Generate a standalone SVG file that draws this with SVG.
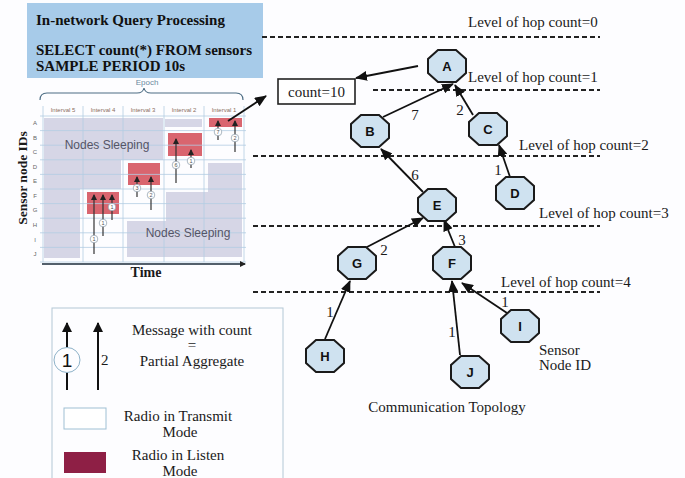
<svg xmlns="http://www.w3.org/2000/svg" xmlns:xlink="http://www.w3.org/1999/xlink" width="685" height="478" viewBox="0 0 685 478">
<style>
.serif{font-family:"Liberation Serif","Times New Roman",serif;fill:#1a1a1a}
.hdr{font-family:"Liberation Serif","Times New Roman",serif;font-weight:bold;font-size:15px;fill:#111}
.lvl{font-size:15px}
.lbl{font-size:15px;text-anchor:middle}
.nodetxt{font-family:"Liberation Sans",Arial,sans-serif;font-weight:bold;font-size:13px;fill:#111;text-anchor:middle}
.oct{fill:#cfe2f0;stroke:#1a1a1a;stroke-width:2}
.dash{stroke:#222;stroke-width:1.8;stroke-dasharray:5 3;fill:none}
.edge{stroke:#111;stroke-width:1.8;fill:none;marker-end:url(#ah)}
.grid{stroke:#b3cde2;stroke-width:0.8;fill:none}
.sleep{fill:#d6d6e6}
.listen{fill:#d9656f}
.carrow{stroke:#333;stroke-width:1.2;fill:none;marker-end:url(#sh)}
.cc{fill:#fff;stroke:#8a9aa8;stroke-width:0.7}
.cnum{font-family:"Liberation Sans",Arial,sans-serif;font-size:5.5px;fill:#555;text-anchor:middle}
.tiny{font-family:"Liberation Sans",Arial,sans-serif;font-size:6px;fill:#8a6e5e;text-anchor:middle}
.row{font-family:"Liberation Sans",Arial,sans-serif;font-size:6px;fill:#666;text-anchor:middle}
.ns{font-family:"Liberation Sans",Arial,sans-serif;font-size:12px;fill:#555566;text-anchor:middle}
</style>
<defs>
<marker id="ah" markerUnits="userSpaceOnUse" markerWidth="12" markerHeight="10" refX="11" refY="5" orient="auto">
<path d="M0,0 L12,5 L0,10 Z" fill="#111"/>
</marker>
<marker id="sh" markerUnits="userSpaceOnUse" markerWidth="6" markerHeight="6" refX="5" refY="3" orient="auto">
<path d="M0,0 L6,3 L0,6 Z" fill="#222"/>
</marker>
<marker id="lh" markerUnits="userSpaceOnUse" markerWidth="10" markerHeight="10" refX="9" refY="5" orient="auto">
<path d="M0,0 L10,5 L0,10 Z" fill="#111"/>
</marker>
<polygon id="oct" class="oct" points="-9,-16 9,-16 19,-7 19,7 9,16 -9,16 -19,7 -19,-7"/>
</defs>
<rect width="685" height="478" fill="#fdfdff"/>

<g id="header">
<rect x="27" y="3" width="236" height="75" fill="#a7cbe9"/>
<text class="hdr" x="36" y="25">In-network Query Processing</text>
<text class="hdr" x="36" y="55">SELECT count(*) FROM sensors</text>
<text class="hdr" x="36" y="71">SAMPLE PERIOD 10s</text>
</g>

<g id="chart">
<path d="M40,100 Q40,93 47,93 L137,93 Q143,93 144,88 Q145,93 151,93 L236,93 Q243,93 243,100" fill="none" stroke="#4d6d84" stroke-width="1.2"/>
<text x="147" y="85" font-family="Liberation Sans, Arial, sans-serif" font-size="8" fill="#6a8aa0" text-anchor="middle">Epoch</text>
<text class="tiny" x="63" y="112">Interval 5</text>
<text class="tiny" x="103" y="112">Interval 4</text>
<text class="tiny" x="143" y="112">Interval 3</text>
<text class="tiny" x="184" y="112">Interval 2</text>
<text class="tiny" x="224" y="112">Interval 1</text>
<polygon class="sleep" points="44,118 163,118 163,160 121,160 121,189 80,189 80,258 44,258"/>
<rect class="sleep" x="165" y="119" width="37" height="8"/>
<polygon class="sleep" points="208,163 242,163 242,257 127,257 127,221 166,221 166,192 208,192"/>
<rect class="listen" x="209" y="118" width="33" height="9"/>
<rect class="listen" x="168" y="133" width="34" height="23"/>
<rect class="listen" x="128" y="163" width="32" height="22"/>
<rect class="listen" x="87" y="192" width="32" height="22"/>
<g class="grid">
<path d="M40,116H246M40,130.6H246M40,145.2H246M40,159.8H246M40,174.4H246M40,189H246M40,203.6H246M40,218.2H246M40,232.8H246M40,247.4H246M40,262H246"/>
<path d="M43,106V262M83,106V262M123,106V262M164,106V262M204,106V262M244,106V262"/>
</g>
<text class="row" x="35" y="125">A</text>
<text class="row" x="35" y="140">B</text>
<text class="row" x="35" y="154">C</text>
<text class="row" x="35" y="169">D</text>
<text class="row" x="35" y="183">E</text>
<text class="row" x="35" y="198">F</text>
<text class="row" x="35" y="212">G</text>
<text class="row" x="35" y="227">H</text>
<text class="row" x="35" y="242">I</text>
<text class="row" x="35" y="256">J</text>
<text class="ns" x="107" y="149">Nodes Sleeping</text>
<text class="ns" x="188" y="237">Nodes Sleeping</text>
<path class="carrow" d="M218,140V121"/><circle class="cc" cx="218" cy="132" r="3.8"/><text class="cnum" x="218" y="134">7</text>
<path class="carrow" d="M235,152V121"/><circle class="cc" cx="235" cy="138" r="3.8"/><text class="cnum" x="235" y="140">2</text>
<path class="carrow" d="M176,183V139"/><circle class="cc" cx="176" cy="165" r="3.8"/><text class="cnum" x="176" y="167">6</text>
<path class="carrow" d="M191,168V150"/><circle class="cc" cx="191" cy="161" r="3.8"/><text class="cnum" x="191" y="163">1</text>
<path class="carrow" d="M137,197V177"/><circle class="cc" cx="137" cy="188" r="3.8"/><text class="cnum" x="137" y="190">3</text>
<path class="carrow" d="M151,210V177"/><circle class="cc" cx="151" cy="195" r="3.8"/><text class="cnum" x="151" y="197">2</text>
<path class="carrow" d="M94,254V195"/><circle class="cc" cx="94" cy="239" r="3.8"/><text class="cnum" x="94" y="241">1</text>
<path class="carrow" d="M103,236V195"/><circle class="cc" cx="103" cy="223" r="3.8"/><text class="cnum" x="103" y="225">1</text>
<path class="carrow" d="M112,220V195"/><circle class="cc" cx="112" cy="207" r="3.8"/><text class="cnum" x="112" y="209">1</text>
<path d="M42,264H245" stroke="#1a2a3a" stroke-width="1.5" marker-end="url(#sh)"/>
<text class="serif" x="146" y="277" font-size="14" font-weight="bold" text-anchor="middle">Time</text>
<text class="serif" transform="translate(27,178) rotate(-90)" font-size="13.5" font-weight="bold" text-anchor="middle">Sensor node IDs</text>
</g>

<g id="levels">
<path class="dash" d="M262,37H600M373,90H600M253,156H600M253,226H600M253,292H600"/>
<text class="serif lvl" x="468" y="27">Level of hop count=0</text>
<text class="serif lvl" x="468" y="82">Level of hop count=1</text>
<text class="serif lvl" x="519" y="150">Level of hop count=2</text>
<text class="serif lvl" x="539" y="218">Level of hop count=3</text>
<text class="serif lvl" x="501" y="287">Level of hop count=4</text>
</g>

<g id="count-box">
<rect x="278" y="79" width="77" height="25" fill="#fff" stroke="#222" stroke-width="1.6"/>
<text class="serif lbl" x="316.5" y="97">count=10</text>
</g>

<g id="connectors">
<path class="edge" d="M228,121L266,96"/>
<path class="edge" d="M418,66L356,78"/>
<path class="edge" d="M383,117L453,84"/>
<path class="edge" d="M473,115L455,85"/>
<path class="edge" d="M423,192L381,149"/>
<path class="edge" d="M510,177L499,145"/>
<path class="edge" d="M367,247L423,218"/>
<path class="edge" d="M455,247L444,220"/>
<path class="edge" d="M325,339L350,281"/>
<path class="edge" d="M460,355L452,281"/>
<path class="edge" d="M507,313L462,283"/>
<text class="serif lbl" x="415" y="120">7</text>
<text class="serif lbl" x="460" y="115">2</text>
<text class="serif lbl" x="415" y="180">6</text>
<text class="serif lbl" x="498" y="175">1</text>
<text class="serif lbl" x="384" y="255">2</text>
<text class="serif lbl" x="462" y="245">3</text>
<text class="serif lbl" x="330" y="317">1</text>
<text class="serif lbl" x="452" y="337">1</text>
<text class="serif lbl" x="505" y="307">1</text>
</g>

<g id="node-A"><use xlink:href="#oct" x="447" y="66"/><text class="nodetxt" x="447" y="71">A</text></g>
<g id="node-B"><use xlink:href="#oct" x="370" y="131"/><text class="nodetxt" x="370" y="136">B</text></g>
<g id="node-C"><use xlink:href="#oct" x="488" y="129"/><text class="nodetxt" x="488" y="134">C</text></g>
<g id="node-D"><use xlink:href="#oct" x="515" y="193"/><text class="nodetxt" x="515" y="198">D</text></g>
<g id="node-E"><use xlink:href="#oct" x="437" y="205"/><text class="nodetxt" x="437" y="210">E</text></g>
<g id="node-F"><use xlink:href="#oct" x="452" y="263"/><text class="nodetxt" x="452" y="268">F</text></g>
<g id="node-G"><use xlink:href="#oct" x="357" y="263"/><text class="nodetxt" x="357" y="268">G</text></g>
<g id="node-H"><use xlink:href="#oct" x="325" y="356"/><text class="nodetxt" x="325" y="361">H</text></g>
<g id="node-I"><use xlink:href="#oct" x="520" y="326"/><text class="nodetxt" x="520" y="331">I</text></g>
<g id="node-J"><use xlink:href="#oct" x="470" y="372"/><text class="nodetxt" x="470" y="377">J</text></g>

<g id="captions">
<text class="serif" x="539" y="355" font-size="15">Sensor</text>
<text class="serif" x="539" y="370" font-size="15">Node ID</text>
<text class="serif lbl" x="447" y="412">Communication Topology</text>
</g>

<g id="legend">
<rect x="52" y="308" width="231" height="190" fill="#fdfdff" stroke="#b3c8d6" stroke-width="1"/>
<path d="M67,390V323" stroke="#111" stroke-width="2" marker-end="url(#lh)"/>
<ellipse cx="67" cy="360" rx="13" ry="12.5" fill="#fdfdff" stroke="#8fb3c9" stroke-width="1"/>
<text x="67" y="367" font-family="Liberation Sans, Arial, sans-serif" font-size="19" fill="#111" text-anchor="middle">1</text>
<path d="M98,390V323" stroke="#111" stroke-width="2" marker-end="url(#lh)"/>
<text class="serif" x="101" y="365" font-size="15">2</text>
<text class="serif lbl" x="192" y="335">Message with count</text>
<text class="serif lbl" x="192" y="350">=</text>
<text class="serif lbl" x="192" y="366">Partial Aggregate</text>
<rect x="64" y="408" width="42" height="21" fill="#fff" stroke="#9fc0d4" stroke-width="1"/>
<text class="serif lbl" x="178" y="421">Radio in Transmit</text>
<text class="serif lbl" x="180" y="437">Mode</text>
<rect x="64" y="452" width="42" height="21" fill="#8e1f45"/>
<text class="serif lbl" x="178" y="460">Radio in Listen</text>
<text class="serif lbl" x="180" y="476">Mode</text>
</g>
</svg>
